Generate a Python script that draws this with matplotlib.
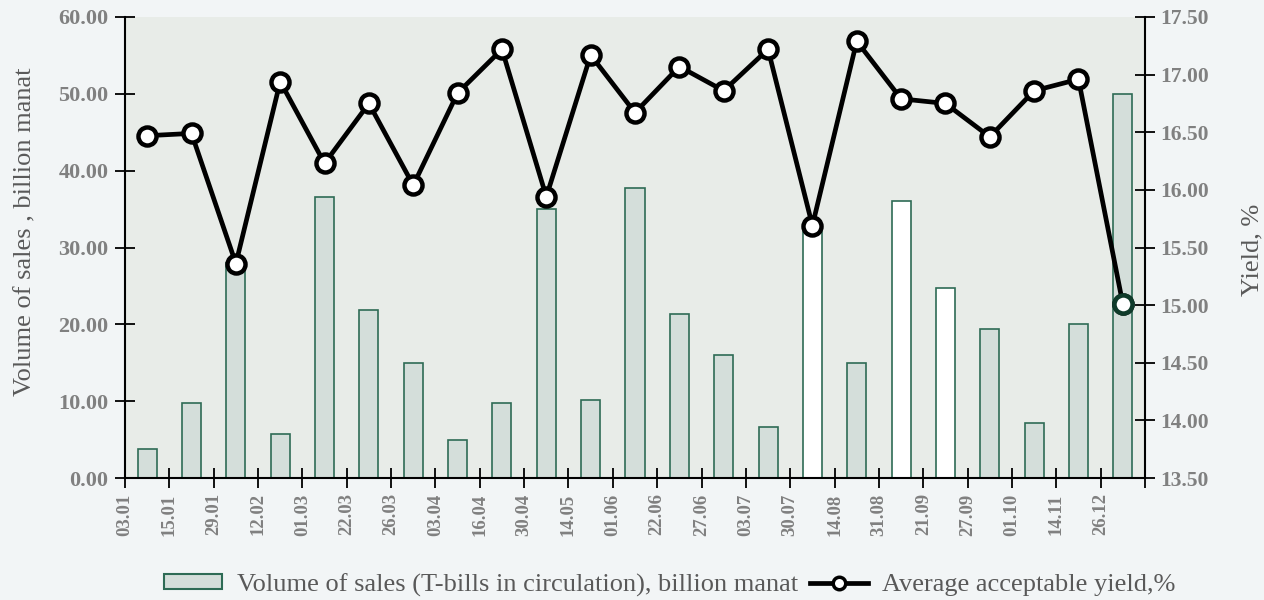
import numpy as np
import matplotlib
matplotlib.use("Agg")
import matplotlib.pyplot as plt
from matplotlib.patches import Patch
from matplotlib.lines import Line2D

# ---- data ----
dates = ['03.01', '15.01', '29.01', '12.02', '01.03', '22.03', '26.03', '03.04',
         '16.04', '30.04', '14.05', '01.06', '22.06', '27.06', '03.07', '30.07',
         '14.08', '31.08', '21.09', '27.09', '01.10', '14.11', '26.12']
volume = [3.8, 9.8, 28.0, 5.7, 36.6, 21.9, 15.0, 5.0, 9.8, 35.0, 10.1, 37.8,
          21.3, 16.0, 6.6, 33.0, 15.0, 36.0, 24.7, 19.4, 7.2, 20.0, 50.0]
yield_pct = [16.47, 16.49, 15.36, 16.94, 16.23, 16.75, 16.04, 16.84, 17.22,
             15.94, 17.17, 16.67, 17.07, 16.86, 17.22, 15.69, 17.29, 16.79,
             16.75, 16.46, 16.86, 16.96, 15.01]
white_bars = [15, 17, 18]

# ---- style ----
plt.rcParams['font.family'] = ['Liberation Serif', 'DejaVu Serif']
bg_fig = '#F2F5F6'
bg_ax = '#E8ECE8'
bar_fill = '#D4DEDA'
bar_edge = '#2E6B55'
tick_grey = '#808080'
label_grey = '#595959'

fig = plt.figure(figsize=(12.64, 6), dpi=100, facecolor=bg_fig)
ax = fig.add_axes([125 / 1264, 1 - 478 / 600, 1020 / 1264, 461 / 600])
ax.set_facecolor(bg_ax)

n = len(volume)
x = np.arange(n) + 0.5
fills = [('white' if i in white_bars else bar_fill) for i in range(n)]
ax.bar(x, volume, width=0.43, color=fills, edgecolor=bar_edge, linewidth=1.2, zorder=2)

ax.set_xlim(0, n)
ax.set_ylim(0, 60)
ax.set_yticks(np.arange(0, 61, 10))
ax.set_yticklabels([f'{v:.2f}' for v in np.arange(0, 61, 10)])
ax.set_xticks(np.arange(n + 1))
ax.set_xticklabels(dates + [''], rotation=90)

ax2 = ax.twinx()
ax2.plot(x, yield_pct, color='black', lw=3.4, marker='o', ms=13,
         mfc='white', mec='black', mew=3.2, zorder=3)
ax2.plot(x[-1:], yield_pct[-1:], ls='none', marker='o', ms=13,
         mfc='white', mec='#0F3B2A', mew=3.2, zorder=4)
ax2.set_ylim(13.5, 17.5)
ax2.set_yticks(np.arange(13.5, 17.51, 0.5))
ax2.set_yticklabels([f'{v:.2f}' for v in np.arange(13.5, 17.51, 0.5)])

for a in (ax, ax2):
    a.spines['top'].set_visible(False)
    for s in ('left', 'right', 'bottom'):
        a.spines[s].set_linewidth(1.5)
    a.tick_params(direction='inout', length=14, width=1.3, color='black')

ax.spines['right'].set_visible(False)
ax2.spines['left'].set_visible(False)
ax2.spines['bottom'].set_visible(False)

for lab in ax.get_yticklabels():
    lab.set_fontweight('bold')
    lab.set_fontsize(16)
    lab.set_color(tick_grey)
for lab in ax.get_xticklabels():
    lab.set_fontweight('bold')
    lab.set_fontsize(13.5)
    lab.set_color(tick_grey)
for lab in ax2.get_yticklabels():
    lab.set_fontweight('bold')
    lab.set_fontsize(15.5)
    lab.set_color(tick_grey)
ax.tick_params(axis='x', pad=4)
ax.tick_params(axis='y', pad=5)
ax2.tick_params(axis='y', pad=4)

fig.text(25 / 1264, 1 - 232 / 600, 'Volume of sales , billion manat', rotation=90,
         ha='center', va='center', fontsize=19, color=label_grey)
fig.text(1252 / 1264, 1 - 250 / 600, 'Yield, %', rotation=90,
         ha='center', va='center', fontsize=19, color=label_grey)

handles = [Patch(facecolor=bar_fill, edgecolor=bar_edge, linewidth=1.5),
           Line2D([0], [0], color='black', lw=3.4, marker='o', ms=9,
                  mfc='white', mec='black', mew=2.5)]
labels = ['Volume of sales (T-bills in circulation), billion manat',
          'Average acceptable yield,%']
leg = fig.legend(handles, labels, loc='center', bbox_to_anchor=(670 / 1264, 1 - 585 / 600),
                 ncol=2, frameon=False, fontsize=19, handlelength=2.2,
                 handleheight=0.5, handletextpad=0.55, columnspacing=0.45,
                 borderpad=0, borderaxespad=0)
for t in leg.get_texts():
    t.set_color(label_grey)

fig.savefig('out.png', dpi=100, facecolor=bg_fig)
